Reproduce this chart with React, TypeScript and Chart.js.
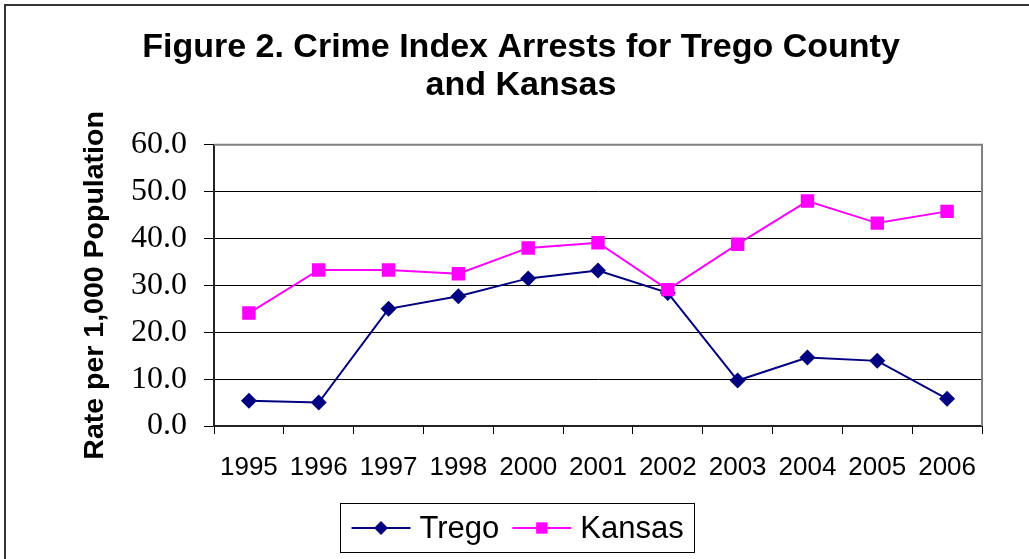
import React, { useEffect, useRef } from "react";
import { Chart, registerables } from "chart.js";

Chart.register(...registerables);

const years = ["1995", "1996", "1997", "1998", "2000", "2001", "2002", "2003", "2004", "2005", "2006"];
const tregoRates = [5.4, 5.0, 25.0, 27.7, 31.5, 33.2, 28.4, 9.7, 14.6, 13.9, 5.8];
const kansasRates = [24.1, 33.3, 33.3, 32.5, 38.0, 39.1, 29.1, 38.8, 48.0, 43.3, 45.8];
const titleLines = ["Figure 2. Crime Index Arrests for Trego County", "and Kansas"];
const yAxisTitle = "Rate per 1,000 Population";
const yMin = 0;
const yMax = 60;
const yStep = 10;

const SANS = '"Liberation Sans", Arial, sans-serif';
const SERIF = '"Liberation Serif", "Times New Roman", serif';

const TREGO_COLOR = "#000080";
const KANSAS_COLOR = "#FF00FF";

function drawMarker(ctx: CanvasRenderingContext2D, style: string, x: number, y: number, r: number, color: string) {
  ctx.fillStyle = color;
  ctx.beginPath();
  if (style === "rectRot") {
    ctx.moveTo(x, y - r);
    ctx.lineTo(x + r, y);
    ctx.lineTo(x, y + r);
    ctx.lineTo(x - r, y);
    ctx.closePath();
  } else {
    const s = r * Math.SQRT1_2;
    ctx.rect(x - s, y - s, 2 * s, 2 * s);
  }
  ctx.fill();
}

const framePlugin = {
  id: "frame",
  beforeDraw(chart: any) {
    const ctx = chart.ctx as CanvasRenderingContext2D;
    ctx.save();
    ctx.fillStyle = "#ffffff";
    ctx.fillRect(0, 0, chart.width, chart.height);
    ctx.strokeStyle = "#333333";
    ctx.lineWidth = 2;
    ctx.beginPath();
    ctx.moveTo(5, chart.height + 5);
    ctx.lineTo(5, 5);
    ctx.lineTo(chart.width + 5, 5);
    ctx.stroke();
    ctx.restore();
  },
  beforeDatasetsDraw(chart: any) {
    const { left, right, top, bottom } = chart.chartArea;
    const ctx = chart.ctx as CanvasRenderingContext2D;
    ctx.save();
    ctx.strokeStyle = "#808080";
    ctx.lineWidth = 2;
    ctx.beginPath();
    ctx.moveTo(left, top);
    ctx.lineTo(right, top);
    ctx.lineTo(right, bottom);
    ctx.stroke();
    ctx.restore();
  },
};

const legendPlugin = {
  id: "boxLegend",
  afterDraw(chart: any) {
    const ctx = chart.ctx as CanvasRenderingContext2D;
    ctx.save();
    ctx.font = "31px " + SANS;
    const lineLen = 59;
    const gapText = 9;
    const gapItems = 13;
    const padX = 11;
    const boxTop = 503;
    const boxH = 49;
    const items = chart.data.datasets.map((ds: any) => ({
      label: ds.label,
      color: ds.borderColor,
      style: ds.pointStyle,
      radius: ds.legendRadius,
      w: ctx.measureText(ds.label).width,
    }));
    let total = padX * 2 + gapItems * (items.length - 1);
    items.forEach((it: any) => (total += lineLen + gapText + it.w));
    const x0 = Math.round(517 - total / 2) + 0.5;
    ctx.strokeStyle = "#000000";
    ctx.lineWidth = 1;
    ctx.strokeRect(x0, boxTop + 0.5, Math.round(total), boxH);
    const cy = boxTop + 25;
    let x = x0 + padX;
    ctx.textBaseline = "middle";
    ctx.textAlign = "left";
    items.forEach((it: any) => {
      ctx.strokeStyle = it.color;
      ctx.lineWidth = 2;
      ctx.beginPath();
      ctx.moveTo(x, cy);
      ctx.lineTo(x + lineLen, cy);
      ctx.stroke();
      drawMarker(ctx, it.style, x + lineLen / 2, cy, it.radius, it.color);
      x += lineLen + gapText;
      ctx.fillStyle = "#000000";
      ctx.fillText(it.label, x, cy + 1);
      x += it.w + gapItems;
    });
    ctx.restore();
  },
};

export default function App() {
  const canvasRef = useRef<HTMLCanvasElement | null>(null);

  useEffect(() => {
    const canvas = canvasRef.current;
    if (!canvas) return;
    const chart = new Chart(canvas, {
      type: "line",
      data: {
        labels: years,
        datasets: [
          {
            label: "Trego",
            data: tregoRates,
            borderColor: TREGO_COLOR,
            backgroundColor: TREGO_COLOR,
            borderWidth: 2,
            pointStyle: "rectRot",
            pointRadius: 8,
            pointBorderWidth: 0,
            tension: 0,
            order: 1,
            legendRadius: 7,
          } as any,
          {
            label: "Kansas",
            data: kansasRates,
            borderColor: KANSAS_COLOR,
            backgroundColor: KANSAS_COLOR,
            borderWidth: 2,
            pointStyle: "rect",
            pointRadius: 9.5,
            pointBorderWidth: 0,
            tension: 0,
            order: 0,
            legendRadius: 8,
          } as any,
        ],
      },
      options: {
        responsive: false,
        animation: false,
        events: [],
        layout: { padding: { left: 60, right: 47, top: 0, bottom: 73 } },
        plugins: {
          legend: { display: false },
          tooltip: { enabled: false },
          title: {
            display: true,
            text: titleLines,
            color: "#000000",
            font: { family: SANS, size: 34, weight: "bold", lineHeight: 1.13 },
            padding: { top: 28, bottom: 40 },
          },
        },
        scales: {
          x: {
            offset: true,
            grid: {
              display: true,
              offset: true,
              drawOnChartArea: false,
              drawTicks: true,
              tickLength: 8,
              color: "#000000",
              lineWidth: 1,
            },
            border: { display: true, color: "#222222", width: 2 },
            ticks: {
              color: "#000000",
              font: { family: SANS, size: 26 },
              padding: 18,
              maxRotation: 0,
              autoSkip: false,
            },
            afterFit(scale: any) {
              scale.height = 60;
            },
          },
          y: {
            min: yMin,
            max: yMax,
            grid: {
              color: (c: any) => (c.tick && c.tick.value === yMax ? "#808080" : "#000000"),
              lineWidth: 1,
              tickLength: 10,
              tickColor: "#000000",
            },
            border: { display: true, color: "#222222", width: 2 },
            ticks: {
              stepSize: yStep,
              color: "#000000",
              font: { family: SERIF, size: 32 },
              padding: 17,
              callback: (v: any) => Number(v).toFixed(1),
            },
            title: {
              display: true,
              text: yAxisTitle,
              color: "#000000",
              font: { family: SANS, size: 28.5, weight: "bold" },
              padding: { top: 18, bottom: 0 },
            },
            afterFit(scale: any) {
              scale.width = 154;
            },
          },
        },
      },
      plugins: [framePlugin, legendPlugin],
    });
    return () => chart.destroy();
  }, []);

  return (
    <div style={{ position: "fixed", left: 0, top: 0, width: 1029, height: 559, background: "#fff" }}>
      <canvas ref={canvasRef} width={1029} height={559} style={{ display: "block", width: 1029, height: 559 }} />
    </div>
  );
}
